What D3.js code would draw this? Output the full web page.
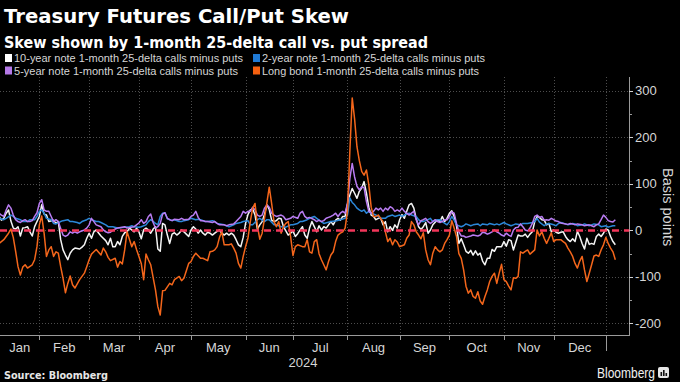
<!DOCTYPE html>
<html>
<head>
<meta charset="utf-8">
<script src="https://cdn.jsdelivr.net/npm/d3@7"></script>
<style>
  html, body { margin: 0; padding: 0; background: #000; }
  svg { display: block; }
</style>
</head>
<body>
<svg id="chart" width="680" height="382"></svg>
<script>
// ---------------- DATA ----------------
// Each point: [trading day (weekdays counted from 2024-01-01 = day 0), basis points]
const tradingDayOrigin = "2024-01-01";

const tenYearNote = [[6,30],[7,22],[8,26],[9,37],[10,44],[11,20],[12,5],[13,3],[14,8],[15,-12],[16,5],[17,6],[18,8],[19,-3],[20,-12],[21,8],[23,30],[24,55],[25,35],[26,33],[27,19],[29,22],[30,15],[31,19],[32,-20],[33,-42],[34,-53],[35,-63],[36,-49],[37,-42],[38,-38],[40,-40],[41,-36],[42,-31],[43,-17],[44,-6],[45,-17],[46,-3],[47,1],[49,-12],[51,-22],[52,-31],[53,-17],[54,-35],[55,-35],[56,-24],[57,-31],[58,-13],[59,-5],[60,-3],[61,5],[62,1],[63,-3],[64,5],[65,-3],[66,-18],[67,1],[68,5],[69,1],[70,-6],[71,3],[72,8],[73,-40],[74,-45],[75,15],[76,12],[77,-10],[78,-28],[79,-8],[80,-5],[81,-10],[82,-6],[83,1],[84,-3],[85,-8],[86,-13],[87,1],[88,8],[89,3],[90,-6],[91,1],[92,-6],[93,-10],[94,-4],[95,-6],[96,-10],[97,-6],[98,-2],[99,1],[100,-6],[101,-10],[102,-6],[103,-10],[104,-6],[105,-10],[106,-20],[107,-31],[108,-35],[109,-15],[110,15],[111,34],[112,44],[113,46],[114,33],[115,3],[116,12],[117,19],[118,35],[119,55],[120,45],[121,22],[122,19],[123,21],[124,26],[125,25],[126,8],[127,-1],[128,-10],[129,-6],[130,-1],[131,-13],[132,-7],[133,1],[134,8],[135,-10],[136,-17],[137,5],[138,19],[139,8],[140,-3],[141,10],[142,1],[143,8],[144,5],[145,12],[146,19],[147,12],[148,22],[149,26],[150,22],[151,30],[152,30],[153,57],[154,76],[155,90],[156,80],[157,69],[158,84],[159,91],[160,105],[161,80],[162,50],[163,33],[164,30],[165,23],[166,26],[167,26],[168,12],[169,19],[170,-3],[171,8],[172,0],[173,12],[174,5],[175,23],[176,34],[177,26],[178,41],[179,55],[180,58],[181,48],[182,25],[183,8],[184,2],[185,8],[186,17],[187,-6],[188,1],[189,12],[191,23],[192,19],[193,30],[194,19],[195,26],[196,37],[197,42],[198,30],[199,10],[200,-28],[201,-18],[202,-31],[203,-45],[204,-49],[205,-43],[206,-53],[207,-44],[208,-53],[209,-49],[210,-66],[211,-74],[212,-60],[213,-60],[214,-41],[215,-45],[216,-35],[217,-35],[218,-35],[219,-24],[220,-34],[221,-20],[222,-22],[223,-42],[224,-26],[225,-10],[226,-12],[227,-12],[228,-8],[229,-15],[230,-8],[231,-3],[232,19],[233,30],[234,28],[235,23],[236,22],[237,12],[238,15],[239,-3],[240,1],[241,-4],[242,-6],[243,-4],[244,-3],[245,-13],[246,-20],[247,-24],[248,-18],[249,-24],[250,-2],[251,-13],[252,-28],[253,-40],[254,-17],[255,-30],[256,-28],[257,-30],[258,-13],[259,-8],[260,-13],[261,-6],[262,3],[263,1],[264,-13],[265,-24],[266,-31]];

const twoYearNote = [[6,26],[8,23],[9,26],[11,33],[12,30],[13,26],[15,23],[16,19],[18,19],[19,23],[21,23],[22,30],[23,41],[24,44],[25,37],[26,26],[28,23],[29,15],[30,14],[32,19],[33,21],[35,23],[36,19],[37,19],[39,17],[40,15],[41,19],[43,23],[44,26],[45,23],[47,19],[48,19],[49,17],[51,12],[52,8],[54,8],[56,5],[59,7],[61,8],[62,10],[63,8],[65,7],[66,8],[68,12],[69,19],[70,23],[72,15],[73,12],[74,30],[75,37],[76,38],[77,25],[79,21],[80,23],[82,19],[83,19],[84,21],[86,23],[87,26],[89,23],[90,24],[91,23],[93,19],[94,19],[96,21],[97,19],[98,15],[101,12],[103,8],[105,12],[106,15],[108,17],[109,19],[111,21],[112,12],[113,12],[115,23],[116,26],[118,19],[119,23],[120,23],[122,12],[123,12],[125,8],[126,8],[127,7],[129,12],[130,12],[132,15],[133,19],[134,19],[136,23],[137,26],[139,30],[140,26],[141,22],[143,15],[146,19],[148,20],[150,23],[152,26],[153,33],[154,70],[155,60],[156,55],[157,48],[158,44],[159,41],[160,44],[161,37],[162,41],[163,37],[165,33],[166,30],[167,26],[169,26],[170,30],[172,33],[173,30],[175,33],[176,30],[177,33],[179,37],[180,33],[182,30],[183,23],[184,19],[185,19],[186,21],[188,26],[189,19],[191,23],[192,23],[193,19],[195,12],[196,19],[197,30],[198,22],[199,12],[201,8],[202,10],[203,14],[205,10],[206,12],[208,14],[209,10],[210,14],[212,12],[213,15],[215,12],[216,14],[217,12],[219,17],[220,14],[222,10],[223,12],[224,14],[226,12],[227,15],[229,15],[231,17],[232,19],[233,26],[234,18],[236,10],[237,14],[238,15],[240,12],[241,10],[242,15],[243,17],[245,14],[246,12],[248,15],[249,14],[250,10],[252,12],[253,14],[255,10],[256,12],[257,14],[259,12],[260,8],[262,10],[263,7],[265,10],[266,10]];

const fiveYearNote = [[6,37],[7,33],[8,30],[9,44],[10,55],[11,48],[12,33],[13,23],[14,19],[15,17],[16,21],[17,23],[18,19],[19,19],[20,21],[21,30],[22,38],[23,58],[24,66],[25,44],[26,41],[27,41],[28,30],[29,19],[30,23],[31,19],[32,4],[33,-10],[34,-13],[35,-10],[36,-3],[37,-6],[38,-3],[39,-6],[40,-3],[42,1],[43,5],[44,12],[45,26],[46,19],[47,12],[49,8],[50,1],[51,-3],[52,-5],[53,-4],[54,0],[55,3],[56,5],[58,7],[59,8],[60,5],[61,6],[63,8],[64,12],[65,16],[66,23],[67,15],[68,19],[69,30],[70,35],[71,17],[72,5],[73,8],[74,15],[75,35],[76,38],[77,26],[78,23],[79,21],[80,24],[82,23],[83,26],[84,23],[86,24],[87,30],[88,33],[89,41],[90,28],[91,21],[92,21],[93,19],[94,19],[96,17],[97,19],[98,15],[99,12],[101,12],[102,10],[103,12],[105,14],[106,19],[108,30],[109,41],[110,37],[111,41],[112,41],[113,50],[114,44],[115,33],[116,30],[117,33],[118,48],[119,55],[120,50],[121,37],[122,33],[123,30],[125,33],[126,30],[127,23],[129,26],[130,30],[132,26],[133,37],[134,41],[135,30],[136,26],[137,28],[139,23],[140,19],[141,22],[142,19],[143,21],[144,26],[145,28],[146,30],[147,33],[148,37],[149,30],[150,37],[151,41],[152,37],[153,58],[154,112],[155,144],[156,115],[157,95],[158,87],[159,94],[160,92],[161,62],[162,41],[163,37],[164,41],[165,48],[166,44],[167,48],[168,41],[169,48],[170,44],[171,51],[172,48],[173,41],[174,44],[175,41],[176,48],[177,41],[178,37],[179,33],[180,37],[181,41],[182,23],[183,12],[184,21],[185,23],[186,26],[187,19],[188,15],[189,19],[190,23],[191,19],[192,17],[193,19],[194,23],[195,23],[196,30],[197,40],[198,37],[199,15],[200,-3],[201,-12],[202,-12],[203,-15],[205,-12],[206,-10],[208,-12],[209,-10],[210,-4],[211,-5],[212,-8],[213,-6],[214,-3],[215,1],[216,-3],[217,-6],[218,-10],[219,-12],[220,-6],[221,-10],[222,-13],[223,1],[224,6],[225,7],[226,14],[227,8],[228,1],[229,-1],[230,5],[231,15],[232,30],[233,33],[234,28],[235,30],[236,22],[237,23],[238,22],[239,26],[240,23],[241,20],[242,19],[243,16],[245,14],[246,13],[247,15],[248,14],[249,12],[250,14],[252,12],[253,10],[255,12],[256,10],[257,8],[258,12],[259,14],[260,23],[261,33],[262,28],[263,21],[264,19],[265,18],[266,23]];

const longBond = [[6,-28],[8,-20],[10,-6],[11,3],[12,-15],[13,-45],[14,-78],[15,-96],[16,-79],[17,-74],[18,-81],[20,-74],[21,-63],[22,-35],[23,12],[24,31],[25,-6],[26,-56],[27,-42],[28,-35],[29,-56],[30,-46],[31,-49],[32,-78],[33,-103],[34,-134],[35,-114],[36,-98],[37,-117],[38,-124],[40,-106],[42,-92],[43,-78],[44,-63],[45,-51],[46,-46],[47,-41],[49,-53],[50,-38],[51,-46],[52,-58],[53,-65],[55,-60],[56,-79],[57,-67],[58,-72],[59,-42],[60,-3],[61,-19],[62,-35],[63,-24],[64,-41],[66,-71],[67,-106],[68,-51],[69,-63],[70,-74],[71,-101],[72,-128],[73,-164],[74,-182],[75,-130],[76,-129],[78,-114],[79,-117],[80,-106],[82,-99],[83,-108],[84,-103],[86,-71],[87,-67],[88,-56],[89,-49],[91,-60],[92,-60],[94,-65],[95,-46],[96,-45],[97,-42],[98,-35],[99,-15],[100,-3],[101,-31],[103,-31],[104,-29],[105,-38],[106,-49],[107,-71],[108,-81],[109,-56],[110,-35],[111,-17],[112,19],[113,48],[114,58],[115,10],[116,-19],[117,-6],[118,26],[119,60],[120,93],[121,58],[122,19],[123,8],[124,19],[125,-6],[126,8],[127,15],[128,19],[129,-13],[130,-54],[131,-35],[132,-31],[134,-35],[135,-35],[136,-20],[137,-46],[138,-49],[139,-24],[140,-20],[141,-50],[142,-63],[143,-74],[144,-85],[145,-67],[146,-53],[147,-46],[148,-24],[149,-10],[150,-6],[151,-3],[152,5],[153,41],[154,170],[155,285],[156,240],[157,180],[158,150],[159,127],[160,119],[161,130],[162,98],[163,50],[164,30],[165,30],[166,33],[167,26],[168,19],[169,-3],[170,-24],[171,-17],[172,-31],[173,-20],[174,-25],[175,-35],[176,-33],[177,-31],[178,-17],[179,-10],[180,19],[181,12],[182,-3],[183,-10],[184,-18],[185,-5],[186,-42],[187,-63],[188,-74],[189,-49],[190,-35],[191,-42],[192,-46],[193,-42],[194,-28],[195,-20],[196,-10],[197,21],[198,5],[199,-13],[200,-50],[201,-60],[202,-85],[203,-120],[204,-135],[205,-128],[206,-142],[207,-146],[208,-132],[209,-152],[210,-159],[211,-142],[212,-128],[213,-110],[214,-99],[215,-92],[216,-114],[217,-92],[218,-73],[219,-106],[220,-110],[221,-120],[222,-128],[223,-102],[224,-103],[225,-99],[226,-46],[227,-49],[228,-45],[229,-42],[230,-51],[232,-42],[233,1],[234,-12],[235,-3],[236,-17],[237,-28],[238,-17],[239,-5],[240,-24],[241,-20],[243,-20],[244,-24],[245,-28],[246,-38],[247,-46],[248,-56],[249,-71],[250,-81],[251,-66],[252,-56],[253,-85],[254,-110],[255,-92],[256,-74],[257,-55],[258,-53],[259,-56],[260,-42],[261,-31],[262,-15],[263,-28],[264,-38],[265,-46],[266,-63]];

const seriesNames = [
  "10-year note 1-month 25-delta calls minus puts",
  "2-year note 1-month 25-delta calls minus puts",
  "5-year note 1-month 25-delta calls minus puts",
  "Long bond 1-month 25-delta calls minus puts"
];
const monthLabels = ["Jan","Feb","Mar","Apr","May","Jun","Jul","Aug","Sep","Oct","Nov","Dec"];
const yearLabel = "2024";
const yTickValues = [-200, -100, 0, 100, 200, 300];
const yMinorTickValues = [-150, -50, 50, 150, 250];
const titleText = "Treasury Futures Call/Put Skew";
const subtitleText = "Skew shown by 1-month 25-delta call vs. put spread";
const yAxisTitle = "Basis points";
const sourceText = "Source: Bloomberg";

// ---------------- HELPERS ----------------
function tradingDay(y, m, d) {            // weekdays from origin to date
  const t0 = Date.UTC(2024, 0, 1), t1 = Date.UTC(y, m, d);
  let n = 0;
  for (let t = t0; t < t1; t += 86400000) {
    const w = new Date(t).getUTCDay();
    if (w !== 0 && w !== 6) n++;
  }
  return n;
}
// first trading day index of each month Jan 2024 .. Jan 2025
const monthStarts = d3.range(13).map(i => tradingDay(2024 + Math.floor(i / 12), i % 12, 1));

// ---------------- LAYOUT ----------------
const svg = d3.select("#chart");
const plot = { left: 0, right: 629.3, top: 77, bottom: 335 };
const x = d3.scaleLinear().domain([6.4, 271.9]).range([plot.left, plot.right]);
const y = d3.scaleLinear().domain([-225, 330]).range([plot.bottom, plot.top]);

svg.append("rect").attr("width", 680).attr("height", 382).attr("fill", "#000");

const labelFont = "'Liberation Sans Narrow', 'Liberation Sans', Arial, sans-serif";
const boldFont = "'DejaVu Sans', 'Liberation Sans', sans-serif";

// Title & subtitle
svg.append("text").attr("x", 4).attr("y", 23).text(titleText)
  .attr("fill", "#fff").attr("font-family", boldFont).attr("font-weight", "bold")
  .attr("font-size", 20).attr("textLength", 345).attr("lengthAdjust", "spacingAndGlyphs");
svg.append("text").attr("x", 4).attr("y", 47.5).text(subtitleText)
  .attr("fill", "#fff").attr("font-family", boldFont).attr("font-weight", "bold")
  .attr("font-size", 15).attr("textLength", 424).attr("lengthAdjust", "spacingAndGlyphs");

// Legend
const colors = ["#f4f4f4", "#2b87d8", "#b97cf2", "#f4661b"];
const legendColors = ["#ffffff", "#1f7ad6", "#b57ae8", "#f5600f"];
const legendPos = [
  { x: 5, y: 58, w: 229 }, { x: 253, y: 58, w: 223 },
  { x: 5, y: 70.5, w: 224 }, { x: 253, y: 70.5, w: 217 }
];
const legend = svg.append("g");
seriesNames.forEach((name, i) => {
  const p = legendPos[i];
  legend.append("rect").attr("x", p.x).attr("y", p.y - 4).attr("width", 7).attr("height", 8)
    .attr("fill", legendColors[i]);
  legend.append("text").attr("x", p.x + 9).attr("y", p.y + 4).text(name)
    .attr("fill", "#d6d6d6").attr("font-family", labelFont).attr("font-size", 11)
    .attr("textLength", p.w).attr("lengthAdjust", "spacingAndGlyphs");
});

// Grid
const grid = svg.append("g").attr("stroke", "#4d4d4d").attr("stroke-width", 1)
  .attr("stroke-dasharray", "1,2");
yTickValues.forEach(v => {
  grid.append("line").attr("x1", plot.left).attr("x2", plot.right)
    .attr("y1", Math.round(y(v)) + 0.5).attr("y2", Math.round(y(v)) + 0.5);
});
monthStarts.slice(1).forEach(d => {
  grid.append("line").attr("y1", plot.top).attr("y2", plot.bottom)
    .attr("x1", Math.round(x(d)) + 0.5).attr("x2", Math.round(x(d)) + 0.5);
});

// Axes lines
const axisColor = "#9a9a9a";
svg.append("line").attr("x1", plot.left).attr("x2", plot.right + 0.5)
  .attr("y1", plot.bottom + 0.5).attr("y2", plot.bottom + 0.5).attr("stroke", axisColor);
svg.append("line").attr("x1", Math.round(plot.right) + 0.5).attr("x2", Math.round(plot.right) + 0.5)
  .attr("y1", plot.top).attr("y2", plot.bottom + 1).attr("stroke", axisColor);

// Right y axis ticks & labels
const yAxisG = svg.append("g");
yTickValues.forEach(v => {
  const yy = Math.round(y(v)) + 0.5;
  yAxisG.append("line").attr("x1", Math.round(plot.right)).attr("x2", Math.round(plot.right) + 4)
    .attr("y1", yy).attr("y2", yy).attr("stroke", "#cfcfcf");
  yAxisG.append("text").attr("x", 635).attr("y", y(v) + 4.5)
    .text(v < 0 ? "-" + Math.abs(v) : String(v))
    .attr("fill", "#d6d6d6").attr("font-family", labelFont).attr("font-size", 13);
});
yMinorTickValues.forEach(v => {
  const yy = Math.round(y(v)) + 0.5;
  yAxisG.append("line").attr("x1", Math.round(plot.right)).attr("x2", Math.round(plot.right) + 3)
    .attr("y1", yy).attr("y2", yy).attr("stroke", "#9a9a9a");
});
svg.append("text").attr("transform", `translate(663,${(y(300) + y(-200)) / 2}) rotate(90)`)
  .attr("text-anchor", "middle").text(yAxisTitle)
  .attr("fill", "#d6d6d6").attr("font-family", labelFont).attr("font-size", 14.5);

// X axis ticks and labels
const xAxisG = svg.append("g");
monthStarts.slice(1).forEach((d, i) => {
  const xx = Math.round(x(d)) + 0.5;
  const isYear = i === monthStarts.length - 2;
  xAxisG.append("line").attr("x1", xx).attr("x2", xx)
    .attr("y1", plot.bottom).attr("y2", plot.bottom + (isYear ? 16 : 5))
    .attr("stroke", axisColor);
});
const [d0, d1] = x.domain();
monthLabels.forEach((m, i) => {
  const a = Math.max(monthStarts[i], d0), b = Math.min(monthStarts[i + 1], d1);
  xAxisG.append("text").attr("x", x((a + b) / 2)).attr("y", 352).attr("text-anchor", "middle")
    .text(m).attr("fill", "#d6d6d6").attr("font-family", labelFont).attr("font-size", 13);
});
xAxisG.append("text").attr("x", x((d0 + monthStarts[12]) / 2)).attr("y", 367)
  .attr("text-anchor", "middle").text(yearLabel)
  .attr("fill", "#d6d6d6").attr("font-family", labelFont).attr("font-size", 13);

// Lines
svg.append("defs").append("clipPath").attr("id", "clip").append("rect")
  .attr("x", plot.left).attr("y", plot.top).attr("width", plot.right - plot.left)
  .attr("height", plot.bottom - plot.top);
const line = d3.line().x(d => x(d[0])).y(d => y(d[1]));
const linesG = svg.append("g").attr("clip-path", "url(#clip)");
[tenYearNote, twoYearNote, fiveYearNote, longBond].forEach((s, i) => {
  linesG.append("path").datum(s).attr("d", line).attr("fill", "none")
    .attr("stroke", colors[i]).attr("stroke-width", 1.5).attr("stroke-linejoin", "round");
});

// Zero line
svg.append("line").attr("x1", plot.left).attr("x2", plot.right)
  .attr("y1", y(0)).attr("y2", y(0))
  .attr("stroke", "#f2365a").attr("stroke-width", 2.5).attr("stroke-dasharray", "7,5");

// Footer
svg.append("text").attr("x", 4).attr("y", 379).text(sourceText)
  .attr("fill", "#e6e6e6").attr("font-family", boldFont).attr("font-weight", "bold")
  .attr("font-size", 10.5).attr("textLength", 104).attr("lengthAdjust", "spacingAndGlyphs");
svg.append("text").attr("x", 597).attr("y", 378).text("Bloomberg")
  .attr("fill", "#f0f0f0").attr("font-family", "'Liberation Sans', Arial, sans-serif")
  .attr("font-size", 14).attr("textLength", 58).attr("lengthAdjust", "spacingAndGlyphs");
const logo = svg.append("g").attr("transform", "translate(658,367)");
logo.append("rect").attr("width", 11).attr("height", 11).attr("rx", 2).attr("fill", "#e6e6e6");
[[2.5, 5, 1.6, 4], [5, 3, 1.6, 6], [7.5, 6, 1.6, 3]].forEach(b => {
  logo.append("rect").attr("x", b[0]).attr("y", b[1]).attr("width", b[2]).attr("height", b[3]).attr("fill", "#111");
});
</script>
</body>
</html>
